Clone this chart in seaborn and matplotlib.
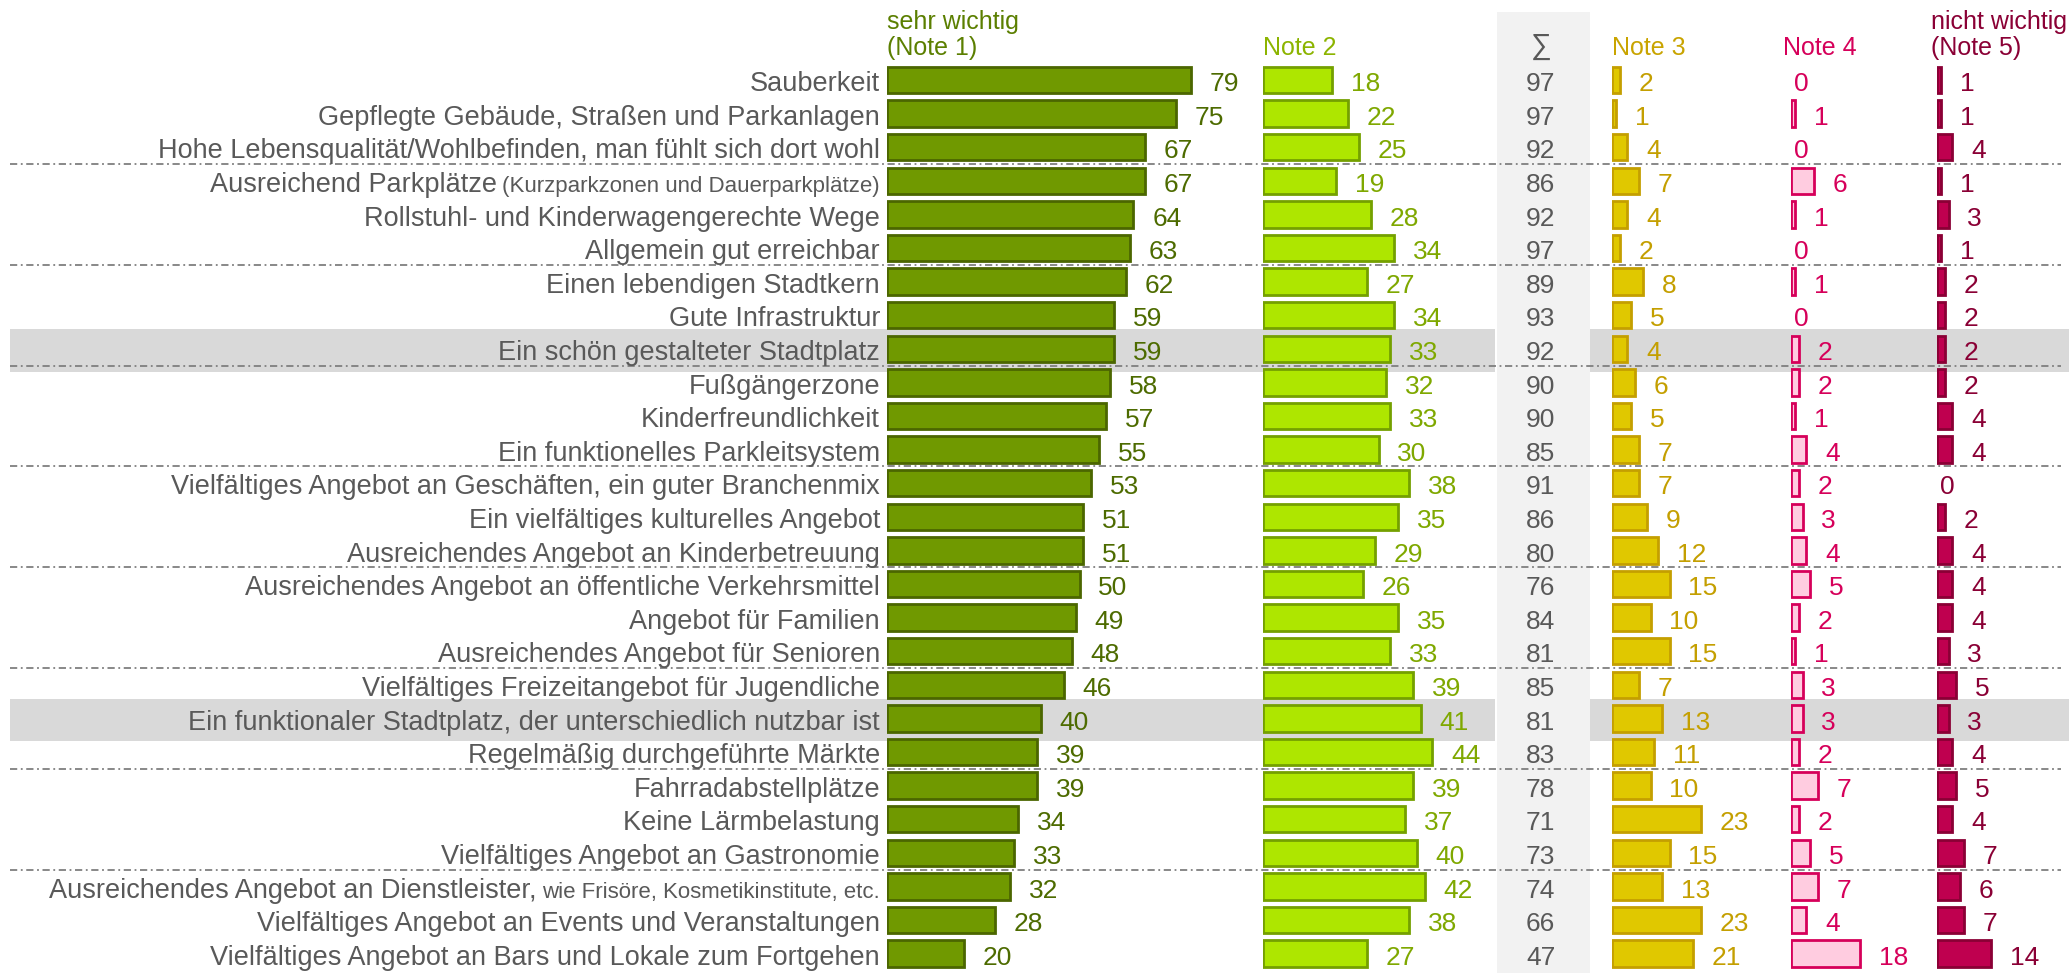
import pandas as pd
import seaborn as sns
import matplotlib.pyplot as plt
from matplotlib.patches import Rectangle

items = [
    "Sauberkeit",
    "Gepflegte Gebäude, Straßen und Parkanlagen",
    "Hohe Lebensqualität/Wohlbefinden, man fühlt sich dort wohl",
    "Ausreichend Parkplätze",
    "Rollstuhl- und Kinderwagengerechte Wege",
    "Allgemein gut erreichbar",
    "Einen lebendigen Stadtkern",
    "Gute Infrastruktur",
    "Ein schön gestalteter Stadtplatz",
    "Fußgängerzone",
    "Kinderfreundlichkeit",
    "Ein funktionelles Parkleitsystem",
    "Vielfältiges Angebot an Geschäften, ein guter Branchenmix",
    "Ein vielfältiges kulturelles Angebot",
    "Ausreichendes Angebot an Kinderbetreuung",
    "Ausreichendes Angebot an öffentliche Verkehrsmittel",
    "Angebot für Familien",
    "Ausreichendes Angebot für Senioren",
    "Vielfältiges Freizeitangebot für Jugendliche",
    "Ein funktionaler Stadtplatz, der unterschiedlich nutzbar ist",
    "Regelmäßig durchgeführte Märkte",
    "Fahrradabstellplätze",
    "Keine Lärmbelastung",
    "Vielfältiges Angebot an Gastronomie",
    "Ausreichendes Angebot an Dienstleister,",
    "Vielfältiges Angebot an Events und Veranstaltungen",
    "Vielfältiges Angebot an Bars und Lokale zum Fortgehen",
]
# smaller-printed addition behind some labels
item_notes = {3: "(Kurzparkzonen und Dauerparkplätze)",
              24: "wie Frisöre, Kosmetikinstitute, etc."}

note1 = [79, 75, 67, 67, 64, 63, 62, 59, 59, 58, 57, 55, 53, 51, 51, 50, 49, 48, 46, 40, 39, 39, 34, 33, 32, 28, 20]
note2 = [18, 22, 25, 19, 28, 34, 27, 34, 33, 32, 33, 30, 38, 35, 29, 26, 35, 33, 39, 41, 44, 39, 37, 40, 42, 38, 27]
total = [97, 97, 92, 86, 92, 97, 89, 93, 92, 90, 90, 85, 91, 86, 80, 76, 84, 81, 85, 81, 83, 78, 71, 73, 74, 66, 47]
note3 = [2, 1, 4, 7, 4, 2, 8, 5, 4, 6, 5, 7, 7, 9, 12, 15, 10, 15, 7, 13, 11, 10, 23, 15, 13, 23, 21]
note4 = [0, 1, 0, 6, 1, 0, 1, 0, 2, 2, 1, 4, 2, 3, 4, 5, 2, 1, 3, 3, 2, 7, 2, 5, 7, 4, 18]
note5 = [1, 1, 4, 1, 3, 1, 2, 2, 2, 2, 4, 4, 0, 2, 4, 4, 4, 3, 5, 3, 4, 5, 4, 7, 6, 7, 14]

highlight_rows = [8, 19]
group_size = 3

df = pd.DataFrame({"item": items, "n1": note1, "n2": note2, "sum": total,
                   "n3": note3, "n4": note4, "n5": note5})

sns.set_theme(style="white")
plt.rcParams["font.family"] = ["Liberation Sans", "DejaVu Sans"]
FS = 19
FS_LABEL = 19.5
GREY = "#595959"

W_PX, H_PX = 2069, 973
fig = plt.figure(figsize=(W_PX / 100, H_PX / 100), dpi=100)

PX_UNIT = 3.85
ROW0, PITCH = 80, 33.6
n = len(items)
top_px = ROW0 - PITCH / 2
bot_px = ROW0 + (n - 0.5) * PITCH
ax_bottom = 1 - bot_px / H_PX
ax_height = (bot_px - top_px) / H_PX

# background: highlight rows, sum column, separators
bg = fig.add_axes([0, ax_bottom, 1, ax_height], zorder=0)
bg.set_xlim(0, W_PX)
bg.set_ylim(n - 0.5, -0.5)
bg.axis("off")
sum_left, sum_w = 1497, 93
bg.add_patch(Rectangle((sum_left, n + 1), sum_w, -(n + 1 + 0.5 + (top_px - 12) / PITCH),
                       facecolor="#f2f2f2", edgecolor="none", clip_on=False, zorder=1))
for r in highlight_rows:
    for x0, x1 in [(10, sum_left - 2), (sum_left + sum_w, W_PX)]:
        bg.add_patch(Rectangle((x0, r - 0.58), x1 - x0, 1.26, facecolor="#d9d9d9",
                               edgecolor="none", zorder=2))
seps = [k - 0.5 for k in range(group_size, n, group_size)]
bg.hlines(seps, 10, W_PX - 8, colors="#7f7f7f", linewidth=1.3,
          linestyles=[(0, (4, 2, 1, 2))], zorder=3)

columns = [
    # key, left px, width px, fill, edge, text colour
    ("n1", 887, 376, "#709900", "#4b6600", "#4d6b00"),
    ("n2", 1263, 234, "#aee600", "#74a000", "#7fa800"),
    ("n3", 1612, 171, "#e0c800", "#c49f00", "#c49f00"),
    ("n4", 1791, 140, "#ffcce0", "#d6005a", "#d6005a"),
    ("n5", 1937, 132, "#bf004f", "#8a0035", "#8a0035"),
]

axes = {}
for key, left, width, fill, edge, tcol in columns:
    ax = fig.add_axes([left / W_PX, ax_bottom, width / W_PX, ax_height], zorder=5)
    sns.barplot(data=df, x=key, y="item", order=items, orient="h", ax=ax,
                color=fill, edgecolor=edge, linewidth=2, width=0.78, saturation=1)
    for p in ax.patches:
        if p.get_width() == 0:
            p.set_visible(False)
    ax.set_xlim(0, width / PX_UNIT)
    ax.set_ylim(n - 0.5, -0.5)
    ax.axis("off")
    for i, v in enumerate(df[key]):
        dx = 13.5 if v > 0 else 2
        ax.annotate(str(v), xy=(v, i), xytext=(dx, -8), textcoords="offset points",
                    ha="left", va="baseline", color=tcol, fontsize=FS)
    axes[key] = ax

# item labels left of the first column
ax1 = axes["n1"]
for i, label in enumerate(items):
    if i in item_notes:
        small = ax1.annotate(item_notes[i], xy=(0, i), xytext=(-5, -8),
                             textcoords="offset points", ha="right", va="baseline",
                             color=GREY, fontsize=FS_LABEL - 3.5)
        ax1.annotate(label, xy=(0, i), xycoords=(small, "data"), xytext=(-4, -8),
                     textcoords="offset points", ha="right", va="baseline",
                     color=GREY, fontsize=FS_LABEL)
    else:
        ax1.annotate(label, xy=(0, i), xytext=(-5, -8), textcoords="offset points",
                     ha="right", va="baseline", color=GREY, fontsize=FS_LABEL)

# sum column
axs = fig.add_axes([sum_left / W_PX, ax_bottom, sum_w / W_PX, ax_height], zorder=5)
axs.set_xlim(0, 1)
axs.set_ylim(n - 0.5, -0.5)
axs.axis("off")
for i, v in enumerate(df["sum"]):
    axs.annotate(str(v), xy=(0.47, i), xytext=(0, -8), textcoords="offset points",
                 ha="center", va="baseline", color=GREY, fontsize=FS)

# column headers
def head(x, y, s, c, ha="left", size=FS - 1):
    fig.text(x / W_PX, 1 - y / H_PX, s, ha=ha, va="center", color=c, fontsize=size)

head(887, 22, "sehr wichtig", "#5b7f00")
head(887, 48, "(Note 1)", "#5b7f00")
head(1263, 48, "Note 2", "#8cb400")
head(1541, 46, "∑", GREY, ha="center", size=FS + 2)
head(1612, 48, "Note 3", "#c9a400")
head(1783, 48, "Note 4", "#d6005a")
head(1931, 22, "nicht wichtig", "#8a0035")
head(1931, 48, "(Note 5)", "#8a0035")

plt.savefig("out.png", dpi=100)
